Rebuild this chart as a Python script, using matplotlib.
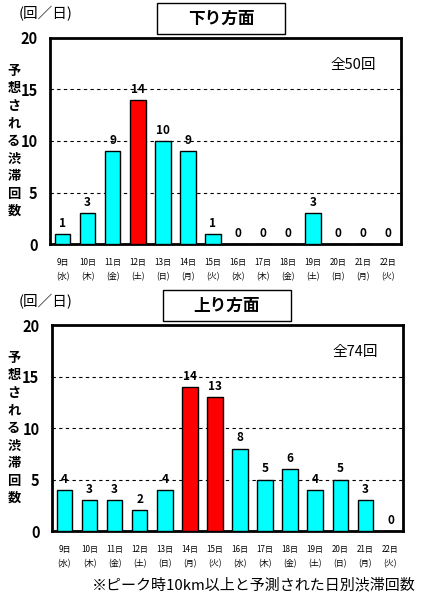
import matplotlib
matplotlib.use("Agg")
import matplotlib.pyplot as plt
from matplotlib.patches import Rectangle

plt.rcParams['font.family'] = ['Noto Sans CJK JP', 'DejaVu Sans']

# Data
days = ["9日", "10日", "11日", "12日", "13日", "14日", "15日",
        "16日", "17日", "18日", "19日", "20日", "21日", "22日"]
weekdays = ["水", "木", "金", "土", "日", "月", "火",
            "水", "木", "金", "土", "日", "月", "火"]
down_counts = [1, 3, 9, 14, 10, 9, 1, 0, 0, 0, 3, 0, 0, 0]
up_counts = [4, 3, 3, 2, 4, 14, 13, 8, 5, 6, 4, 5, 3, 0]
down_peak = [3]
up_peak = [5, 6]
down_title = "下り方面"
up_title = "上り方面"
down_total = "全50回"
up_total = "全74回"
ylabel_chars = "予想される渋滞回数"
yticks = [0, 5, 10, 15, 20]
note = "※ピーク時10km以上と予測された日別渋滞回数"

xlabels = [f"{d}\n({w})" for d, w in zip(days, weekdays)]

fig = plt.figure(figsize=(4.22, 6.0), dpi=100)


def draw_panel(rect, counts, peaks, title, total, box, unit_y):
    ax = fig.add_axes(rect)
    colors = ['#FF0000' if i in peaks else '#00FFFF' for i in range(len(counts))]
    x = range(len(counts))
    ax.bar(x, counts, width=0.62, color=colors, edgecolor='black', linewidth=1, zorder=3)
    for i, v in enumerate(counts):
        ax.text(i, v + 0.4, str(v), ha='center', va='bottom', fontsize=8.5,
                fontweight='bold', zorder=4)
    ax.set_xlim(-0.5, len(counts) - 0.5)
    ax.set_ylim(0, 20)
    ax.set_yticks(yticks)
    ax.set_yticklabels([str(t) for t in yticks], fontsize=10.5, fontweight='bold')
    for g in [5, 10, 15]:
        ax.axhline(g, color='black', linestyle=(0, (3, 3)), linewidth=0.8, zorder=1)
    ax.set_xticks(list(x))
    ax.set_xticklabels(xlabels, fontsize=5.8, linespacing=1.7)
    ax.tick_params(axis='y', length=0, pad=9)
    ax.tick_params(axis='x', length=0, pad=10)
    for s in ax.spines.values():
        s.set_linewidth(2)
    ax.text(0.93, 0.87, total, transform=ax.transAxes, ha='right', va='center', fontsize=10.5)
    # vertical label
    fig.text(0.033, rect[1] + rect[3] * 0.5, "\n".join(ylabel_chars), ha='center',
             va='center', fontsize=9.5, fontweight='bold', linespacing=1.32)
    fig.text(0.045, unit_y, "(回／日)", ha='left', va='center', fontsize=10.5)
    fig.patches.append(Rectangle((box[0], box[1]), box[2], box[3], transform=fig.transFigure,
                                 facecolor='white', edgecolor='black', linewidth=1))
    fig.text(box[0] + box[2] / 2, box[1] + box[3] / 2, title, ha='center', va='center',
             fontsize=12, fontweight='bold')
    return ax


draw_panel([0.1185, 0.5933, 0.8315, 0.3434], down_counts, down_peak, down_title,
           down_total, [0.372, 0.9433, 0.303, 0.0517], 0.978)
draw_panel([0.123, 0.115, 0.832, 0.3433], up_counts, up_peak, up_title,
           up_total, [0.386, 0.465, 0.303, 0.0517], 0.497)

fig.text(0.985, 0.025, note, ha='right', va='center', fontsize=10.8)

fig.savefig("out.png", dpi=100)
